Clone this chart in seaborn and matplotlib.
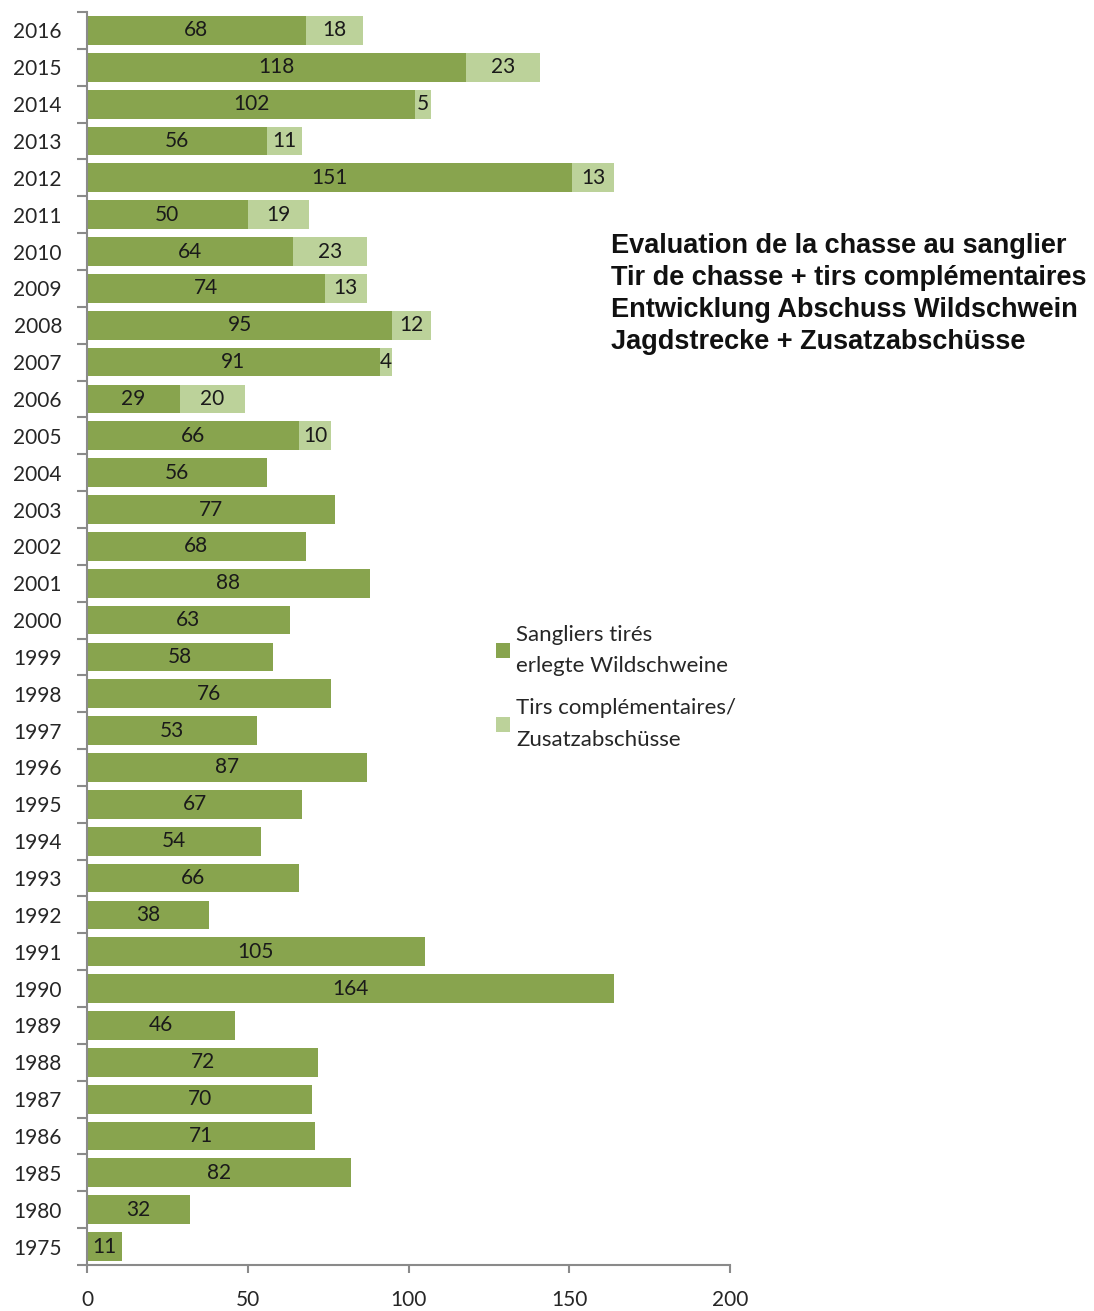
import matplotlib
matplotlib.use("Agg")
import matplotlib.pyplot as plt
import seaborn as sns
import pandas as pd
import numpy as np
from matplotlib.patches import Patch

years = ["2016", "2015", "2014", "2013", "2012", "2011", "2010", "2009", "2008", "2007",
         "2006", "2005", "2004", "2003", "2002", "2001", "2000", "1999", "1998", "1997",
         "1996", "1995", "1994", "1993", "1992", "1991", "1990", "1989", "1988", "1987",
         "1986", "1985", "1980", "1975"]
shot = [68, 118, 102, 56, 151, 50, 64, 74, 95, 91,
        29, 66, 56, 77, 68, 88, 63, 58, 76, 53,
        87, 67, 54, 66, 38, 105, 164, 46, 72, 70,
        71, 82, 32, 11]
extra = [18, 23, 5, 11, 13, 19, 23, 13, 12, 4,
         20, 10, 0, 0, 0, 0, 0, 0, 0, 0,
         0, 0, 0, 0, 0, 0, 0, 0, 0, 0,
         0, 0, 0, 0]

title_lines = ["Evaluation de la chasse au sanglier",
               "Tir de chasse + tirs complémentaires",
               "Entwicklung Abschuss Wildschwein",
               "Jagdstrecke + Zusatzabschüsse"]
legend_labels = ["Sangliers tirés\nerlegte Wildschweine",
                 "Tirs complémentaires/\nZusatzabschüsse"]

dark = "#88A44E"
light = "#BCD29A"

df = pd.DataFrame({"year": years, "shot": shot, "extra": extra})
df["total"] = df["shot"] + df["extra"]

sns.set_style("white")
plt.rcParams["font.family"] = ["Lato", "DejaVu Sans"]

fig = plt.figure(figsize=(10.94, 13.11), dpi=100)
ax = fig.add_axes([87 / 1094, 46 / 1311, (730 - 87) / 1094, (1265 - 12) / 1311])

sns.barplot(data=df, y="year", x="total", order=years, color=light, orient="h",
            width=0.78, ax=ax, saturation=1, linewidth=0)
sns.barplot(data=df, y="year", x="shot", order=years, color=dark, orient="h",
            width=0.78, ax=ax, saturation=1, linewidth=0)

lab_fs = 15
for i, (s, e) in enumerate(zip(shot, extra)):
    ax.text(s / 2, i, str(s), ha="center", va="center", fontsize=lab_fs, color="#1a1a1a")
    if e > 0:
        ax.text(s + e / 2, i, str(e), ha="center", va="center", fontsize=lab_fs, color="#1a1a1a")

ax.set_xlim(0, 200)
ax.set_ylim(len(years) - 0.5, -0.5)
ax.set_xticks([0, 50, 100, 150, 200])
ax.set_xlabel("")
ax.set_ylabel("")
for sp in ["top", "right"]:
    ax.spines[sp].set_visible(False)
for sp in ["left", "bottom"]:
    ax.spines[sp].set_color("#8a8a8a")
    ax.spines[sp].set_linewidth(1.5)
ax.tick_params(axis="x", which="major", length=6, width=1.5, color="#8a8a8a",
               direction="out", labelsize=lab_fs, pad=12, bottom=True)
ax.tick_params(axis="y", which="major", length=0, labelsize=lab_fs, pad=18, left=False)
ax.set_yticks(np.arange(-0.5, len(years) + 0.5, 1.0), minor=True)
ax.tick_params(axis="y", which="minor", length=7, width=1.5, color="#8a8a8a",
               direction="out", left=True)

fig.text(611 / 1094, 1 - 233 / 1311, "\n".join(title_lines), ha="left", va="top",
         fontsize=19.5, fontweight="bold", family="Liberation Sans", linespacing=1.3,
         color="#111111")

handles = [Patch(facecolor=dark, edgecolor="none"), Patch(facecolor=light, edgecolor="none")]
leg = fig.legend(handles, legend_labels, loc="upper left",
                 bbox_to_anchor=(476 / 1094, 1 - 605 / 1311), frameon=False,
                 fontsize=16, handlelength=0.65, handleheight=0.65, handletextpad=0.25,
                 labelspacing=1.0)
for t in leg.get_texts():
    t.set_linespacing(1.7)

fig.savefig("out.png", dpi=100)
